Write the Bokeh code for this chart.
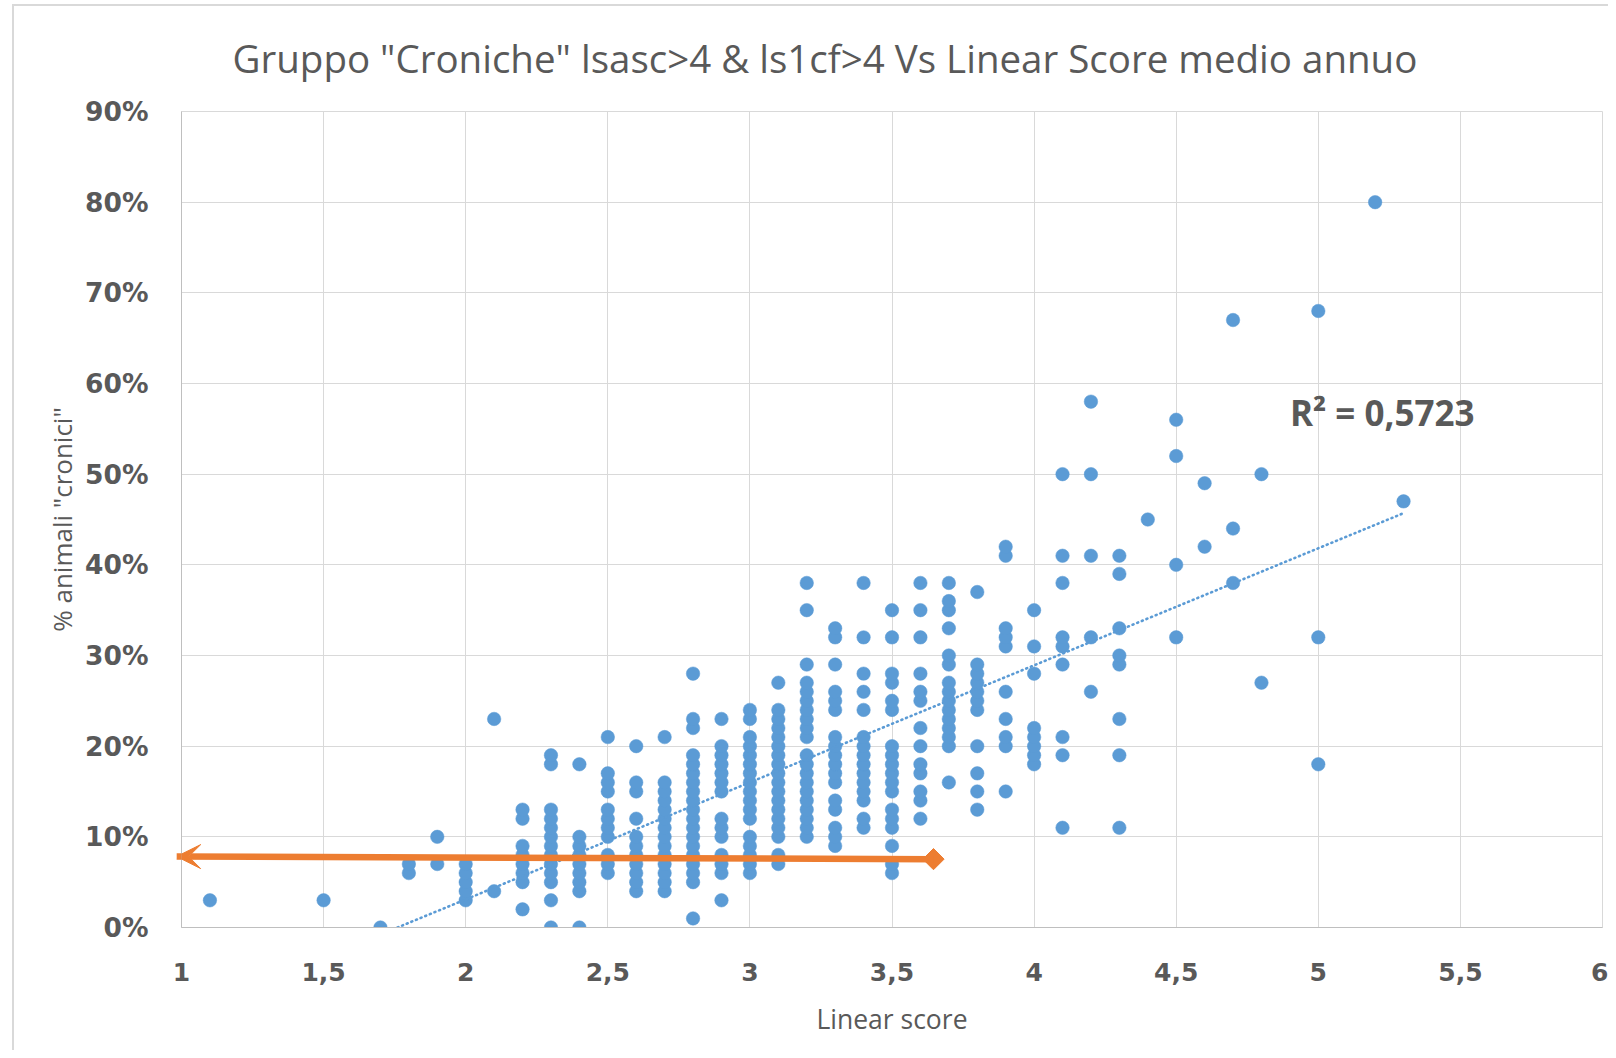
import numpy as np
from bokeh.plotting import figure
from bokeh.models import Range1d, FixedTicker, NumeralTickFormatter, Label, Arrow, VeeHead
from bokeh.embed import file_html
from bokeh.resources import INLINE

# ---- data ----
score_levels = [1.1, 1.5, 1.7, 1.8, 1.9, 2.0, 2.1, 2.2, 2.3, 2.4, 2.5, 2.6, 2.7, 2.8, 2.9,
                3.0, 3.1, 3.2, 3.3, 3.4, 3.5, 3.6, 3.7, 3.8, 3.9, 4.0, 4.1, 4.2, 4.3, 4.4,
                4.5, 4.6, 4.7, 4.8, 5.0, 5.2, 5.3]
pct_by_level = [
    [3],
    [3],
    [0],
    [6, 7],
    [7, 10],
    [3, 4, 5, 6, 7],
    [4, 23],
    [2, 5, 6, 7, 8, 9, 12, 13],
    [0, 3, 5, 6, 7, 8, 9, 10, 11, 12, 13, 18, 19],
    [0, 4, 5, 6, 7, 8, 9, 10, 18],
    [6, 7, 8, 10, 11, 12, 13, 15, 16, 17, 21],
    [4, 5, 6, 7, 8, 9, 10, 12, 15, 16, 20],
    [4, 5, 6, 7, 8, 9, 10, 11, 12, 13, 14, 15, 16, 21],
    [1, 5, 6, 7, 8, 9, 10, 11, 12, 13, 14, 15, 16, 17, 18, 19, 22, 23, 28],
    [3, 6, 7, 8, 10, 11, 12, 15, 16, 17, 18, 19, 20, 23],
    [6, 7, 8, 9, 10, 12, 13, 14, 15, 16, 17, 18, 19, 20, 21, 23, 24],
    [7, 8, 10, 11, 12, 13, 14, 15, 16, 17, 18, 19, 20, 21, 22, 23, 24, 27],
    [10, 11, 12, 13, 14, 15, 16, 17, 18, 19, 21, 22, 23, 24, 25, 26, 27, 29, 35, 38],
    [9, 10, 11, 13, 14, 16, 17, 18, 19, 20, 21, 24, 25, 26, 29, 32, 33],
    [11, 12, 14, 15, 16, 17, 18, 19, 20, 21, 24, 26, 28, 32, 38],
    [6, 7, 9, 11, 12, 13, 15, 16, 17, 18, 19, 20, 24, 25, 27, 28, 32, 35],
    [12, 14, 15, 17, 18, 20, 22, 25, 26, 28, 32, 35, 38],
    [16, 20, 21, 22, 23, 24, 25, 26, 27, 29, 30, 33, 35, 36, 38],
    [13, 15, 17, 20, 24, 25, 26, 27, 28, 29, 37],
    [15, 20, 21, 23, 26, 31, 32, 33, 41, 42],
    [18, 19, 20, 21, 22, 28, 31, 35],
    [11, 19, 21, 29, 31, 32, 38, 41, 50],
    [26, 32, 41, 50, 58],
    [11, 19, 23, 29, 30, 33, 39, 41],
    [45],
    [32, 40, 52, 56],
    [42, 49],
    [38, 44, 67],
    [27, 50],
    [18, 32, 68],
    [80],
    [47],
]

x_ticks = [1, 1.5, 2, 2.5, 3, 3.5, 4, 4.5, 5, 5.5, 6]
x_tick_labels = ["1", "1,5", "2", "2,5", "3", "3,5", "4", "4,5", "5", "5,5", "6"]
y_ticks = [0, 0.1, 0.2, 0.3, 0.4, 0.5, 0.6, 0.7, 0.8, 0.9]

trend_x = [1.76, 5.3]
trend_y = [0.0, 0.457]
r2_text = "R² = 0,5723"

arrow_x = [3.646, 0.983]
arrow_y = [0.0754, 0.0783]

title_text = 'Gruppo "Croniche" lsasc>4 & ls1cf>4 Vs Linear Score medio annuo'
x_title = "Linear score"
y_title = '% animali "cronici"'

# ---- build ----
xs, ys = [], []
for lv, vals in zip(score_levels, pct_by_level):
    for v in vals:
        xs.append(lv)
        ys.append(v / 100.0)

BLUE = "#5B9BD5"
ORANGE = "#ED7D31"
TXT = "#595959"

p = figure(width=1608, height=1050, x_range=Range1d(1, 6), y_range=Range1d(0, 0.9),
           output_backend="svg", toolbar_location=None,
           min_border_left=181, min_border_right=6, min_border_top=111, min_border_bottom=123)
p.title.text = title_text
p.title.align = "left"
p.title.offset = 51
p.title.standoff = 56
p.title.text_font = "Open Sans"
p.title.text_font_style = "normal"
p.title.text_font_size = "38.5px"
p.title.text_color = TXT

# light grey chart-area border (top and left edges)
p.border_fill_alpha = 0
p.styles = {
    "background-image": "linear-gradient(#d9d9d9, #d9d9d9), linear-gradient(#d9d9d9, #d9d9d9)",
    "background-position": "12px 4px, 12px 4px",
    "background-size": "2px 1200px, 1800px 2px",
    "background-repeat": "no-repeat",
}

p.background_fill_color = "white"
p.outline_line_color = "#d9d9d9"
p.outline_line_width = 1

p.xaxis.ticker = FixedTicker(ticks=x_ticks)
p.xaxis.major_label_overrides = {t: l for t, l in zip(x_ticks, x_tick_labels)}
p.yaxis.ticker = FixedTicker(ticks=y_ticks)
p.yaxis.formatter = NumeralTickFormatter(format="0%")
p.xgrid.ticker = FixedTicker(ticks=x_ticks)
p.ygrid.ticker = FixedTicker(ticks=y_ticks)
for g in (p.xgrid, p.ygrid):
    g.grid_line_color = "#d9d9d9"
    g.grid_line_width = 1

for ax in (p.xaxis, p.yaxis):
    ax.axis_line_color = "#bfbfbf"
    ax.axis_line_width = 1
    ax.major_tick_line_color = None
    ax.minor_tick_line_color = None
    ax.major_tick_out = 0
    ax.major_tick_in = 0
    ax.major_label_text_font = "DejaVu Sans"
    ax.major_label_text_font_style = "bold"
    ax.major_label_text_color = TXT
    ax.axis_label_text_font = "Open Sans"
    ax.axis_label_text_font_style = "normal"
    ax.axis_label_text_color = TXT
p.xaxis.major_label_text_font_size = "25px"
p.yaxis.major_label_text_font_size = "26.5px"
p.xaxis.major_label_standoff = 35
p.yaxis.major_label_standoff = 33
p.xaxis.axis_label = x_title
p.yaxis.axis_label = y_title
p.xaxis.axis_label_text_font_size = "26.5px"
p.yaxis.axis_label_text_font_size = "26px"
p.xaxis.axis_label_standoff = 17
p.yaxis.axis_label_standoff = 2

p.scatter(xs, ys, size=13.5, fill_color=BLUE, line_color=BLUE, line_width=0.5)

p.line(trend_x, trend_y, line_color=BLUE, line_width=2.6, line_dash="1 4", line_cap="round")

p.add_layout(Arrow(x_start=arrow_x[0], y_start=arrow_y[0], x_end=arrow_x[1], y_end=arrow_y[1],
                   line_color=ORANGE, line_width=6.5,
                   end=VeeHead(size=24, fill_color=ORANGE, line_color=ORANGE)))
p.scatter([arrow_x[0]], [arrow_y[0]], marker="square", angle=np.pi / 4, size=15,
          fill_color=ORANGE, line_color=ORANGE)

p.add_layout(Label(x=4.90, y=0.568, text=r2_text, text_font="Open Sans", text_font_style="bold",
                   text_font_size="35px", text_color=TXT, text_baseline="middle", text_align="left"))

open("out.html", "w").write(file_html(p, INLINE))
